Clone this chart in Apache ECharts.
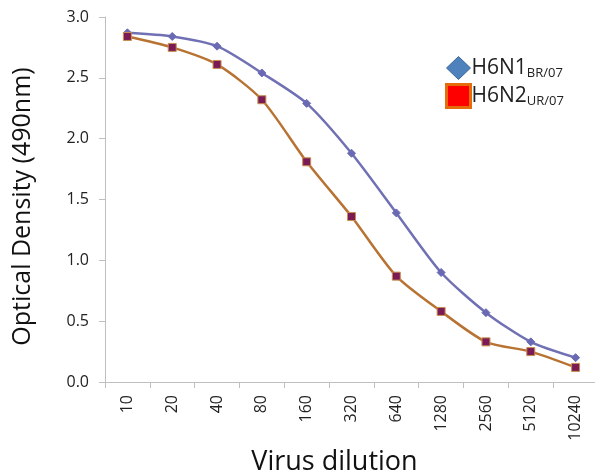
<!DOCTYPE html>
<html>
<head>
<meta charset="utf-8">
<script src="https://cdn.jsdelivr.net/npm/echarts@6/dist/echarts.min.js"></script>
<style>
  html, body { margin: 0; padding: 0; background: #fff; }
  #chart { width: 595px; height: 471px; }
</style>
</head>
<body>
<div id="chart"></div>
<script>
const dilutions = ['10', '20', '40', '80', '160', '320', '640', '1280', '2560', '5120', '10240']
const h6n1 = [2.87, 2.84, 2.76, 2.54, 2.29, 1.88, 1.39, 0.90, 0.57, 0.33, 0.20]
const h6n2 = [2.84, 2.75, 2.61, 2.32, 1.81, 1.36, 0.87, 0.58, 0.33, 0.25, 0.12]

const chart = echarts.init(document.getElementById('chart'))
const font = "'Open Sans', 'DejaVu Sans', sans-serif"

const option = {
  animation: false,
  textStyle: { fontFamily: font },
  grid: { left: 105, right: -3, top: 17, bottom: 89, outerBoundsMode: 'none', containLabel: false },
  legend: {
    orient: 'vertical',
    left: 440,
    top: 51,
    itemGap: 3,
    itemWidth: 24,
    itemHeight: 23,
    data: [
      { name: 'H6N1', icon: 'diamond', itemStyle: { color: '#4f81bd', borderColor: '#3a679c', borderWidth: 1 } },
      { name: 'H6N2', icon: 'rect', itemStyle: { color: '#ff0000', borderColor: '#e46c0a', borderWidth: 3 } }
    ],
    formatter: function (name) {
      return name === 'H6N1' ? '{a|H6N1}{s|BR/07}' : '{a|H6N2}{s|UR/07}'
    },
    textStyle: {
      padding: [0, 0, 0, -4],
      rich: {
        a: { fontSize: 21, lineHeight: 24, color: '#222', fontFamily: font },
        s: { fontSize: 13, lineHeight: 24, color: '#222', fontFamily: font, verticalAlign: 'bottom', padding: [10, 0, 0, 0] }
      }
    }
  },
  xAxis: {
    type: 'category',
    data: dilutions,
    boundaryGap: true,
    name: 'Virus dilution',
    nameLocation: 'middle',
    nameGap: 64,
    nameTextStyle: { fontSize: 27, color: '#111', fontFamily: font, padding: [0, 34, 0, 0] },
    axisLine: { lineStyle: { color: '#bfbfbf', width: 1 } },
    axisTick: { show: true, length: 6, lineStyle: { color: '#bfbfbf' } },
    axisLabel: { rotate: 90, fontSize: 16, color: '#222', margin: 13 },
    splitLine: { show: false }
  },
  yAxis: {
    type: 'value',
    min: 0,
    max: 3,
    interval: 0.5,
    name: 'Optical Density (490nm)',
    nameLocation: 'middle',
    nameGap: 70,
    nameTextStyle: { fontSize: 25, color: '#111', fontFamily: font, padding: [0, 14, 0, 0] },
    axisLine: { show: true, lineStyle: { color: '#bfbfbf', width: 1 } },
    axisTick: { show: true, length: 6, lineStyle: { color: '#bfbfbf' } },
    axisLabel: {
      fontSize: 16,
      color: '#222',
      margin: 16,
      formatter: v => v.toFixed(1)
    },
    splitLine: { show: false }
  },
  series: [
    {
      name: 'H6N1',
      type: 'line',
      data: h6n1,
      smooth: 0.25,
      symbol: 'diamond',
      symbolSize: 8,
      lineStyle: { color: '#7070b4', width: 2.5 },
      itemStyle: { color: '#6a6ab4', borderColor: '#6a6ab4' }
    },
    {
      name: 'H6N2',
      type: 'line',
      data: h6n2,
      smooth: 0.25,
      symbol: 'rect',
      symbolSize: 8,
      lineStyle: { color: '#b87333', width: 2.5 },
      itemStyle: { color: '#7b1b55', borderColor: '#c8904f', borderWidth: 1 }
    }
  ]
}

chart.setOption(option)
</script>
</body>
</html>
